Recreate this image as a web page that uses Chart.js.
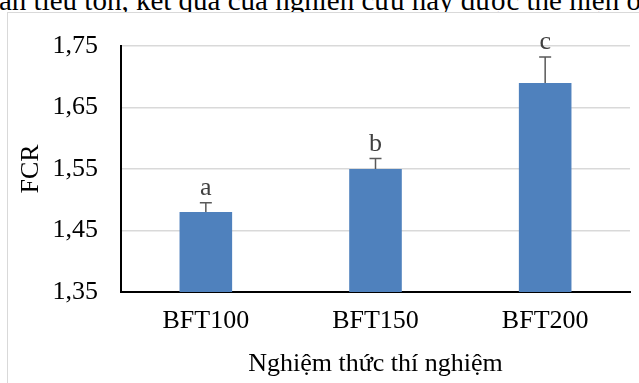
<!DOCTYPE html>
<html>
<head>
<meta charset="utf-8">
<script src="https://cdn.jsdelivr.net/npm/chart.js@4/dist/chart.umd.min.js"></script>
<style>
  html, body { margin: 0; padding: 0; background: #fff; overflow: hidden; }
  #wrap { position: relative; width: 639px; height: 383px; overflow: hidden; }
  #cau { position: absolute; left: -1px; top: -14px; font: 29px "Liberation Serif"; line-height: 28px; white-space: nowrap; color: #000; }
  #khung { position: absolute; left: 7px; top: 12px; width: 700px; height: 420px; border-left: 1.5px solid #d9d9d9; border-top: 1.5px solid #d9d9d9; background: #fff; }
  canvas { position: absolute; left: 0; top: 0; }
</style>
</head>
<body>
<div id="wrap">
  <div id="cau">ăn tiêu tốn, kết quả của nghiên cứu này được thể hiện ở</div>
  <div id="khung"></div>
  <canvas id="bieuDo" width="639" height="383"></canvas>
</div>
<script>
// Số liệu
const nghiemThuc = ['BFT100', 'BFT150', 'BFT200'];
const giaTriFCR = [1.48, 1.55, 1.69];
const saiSoFCR = [0.015, 0.017, 0.042];
const kyHieu = ['a', 'b', 'c'];
const mocTrucY = [1.35, 1.45, 1.55, 1.65, 1.75];

const FONT_CHU = 'Liberation Serif';

// Vẽ thanh sai số và ký hiệu a, b, c phía trên
const pluginSaiSo = {
  id: 'saiSo',
  afterDatasetsDraw(chart) {
    const ctx = chart.ctx;
    const y = chart.scales.y;
    const meta = chart.getDatasetMeta(0);
    ctx.save();
    meta.data.forEach((bar, i) => {
      const yTren = y.getPixelForValue(giaTriFCR[i] + saiSoFCR[i]);
      const yDuoi = y.getPixelForValue(giaTriFCR[i]);
      ctx.strokeStyle = '#595959';
      ctx.lineWidth = 1.5;
      ctx.beginPath();
      ctx.moveTo(bar.x, yDuoi);
      ctx.lineTo(bar.x, yTren);
      ctx.moveTo(bar.x - 6, yTren);
      ctx.lineTo(bar.x + 6, yTren);
      ctx.stroke();
      ctx.fillStyle = '#404040';
      ctx.font = '26px "' + FONT_CHU + '"';
      ctx.textAlign = 'center';
      ctx.textBaseline = 'alphabetic';
      ctx.fillText(kyHieu[i], bar.x, yTren - 8);
    });
    ctx.restore();
  }
};

new Chart(document.getElementById('bieuDo'), {
  type: 'bar',
  data: {
    labels: nghiemThuc,
    datasets: [{ data: giaTriFCR, backgroundColor: '#4f81bd', barPercentage: 0.31, categoryPercentage: 1 }]
  },
  options: {
    responsive: false,
    animation: false,
    devicePixelRatio: 1,
    layout: { padding: { top: 46, right: 9, left: 8, bottom: 0 } },
    plugins: { legend: { display: false }, tooltip: { enabled: false } },
    scales: {
      x: {
        grid: { drawOnChartArea: false, drawTicks: false },
        border: { color: '#000', width: 2 },
        ticks: { color: '#000', padding: 14, font: { family: FONT_CHU, size: 26 } },
        title: { display: true, text: 'Nghiệm thức thí nghiệm', color: '#000', font: { family: FONT_CHU, size: 26 }, padding: { top: 0, bottom: 3 } },
        afterFit(scale) { scale.height = 91; }
      },
      y: {
        min: 1.35,
        max: 1.75,
        afterBuildTicks(scale) { scale.ticks = mocTrucY.map(v => ({ value: v })); },
        grid: { color: '#d9d9d9', lineWidth: 1.5, drawTicks: false },
        border: { color: '#000', width: 2 },
        ticks: {
          color: '#000', padding: 23, font: { family: FONT_CHU, size: 26 },
          callback: v => v.toFixed(2).replace('.', ',')
        },
        title: { display: true, text: 'FCR', color: '#000', font: { family: FONT_CHU, size: 26 }, padding: { top: 8, bottom: 0 } },
        afterFit(scale) { scale.width = 113; }
      }
    }
  },
  plugins: [pluginSaiSo]
});
</script>
</body>
</html>
